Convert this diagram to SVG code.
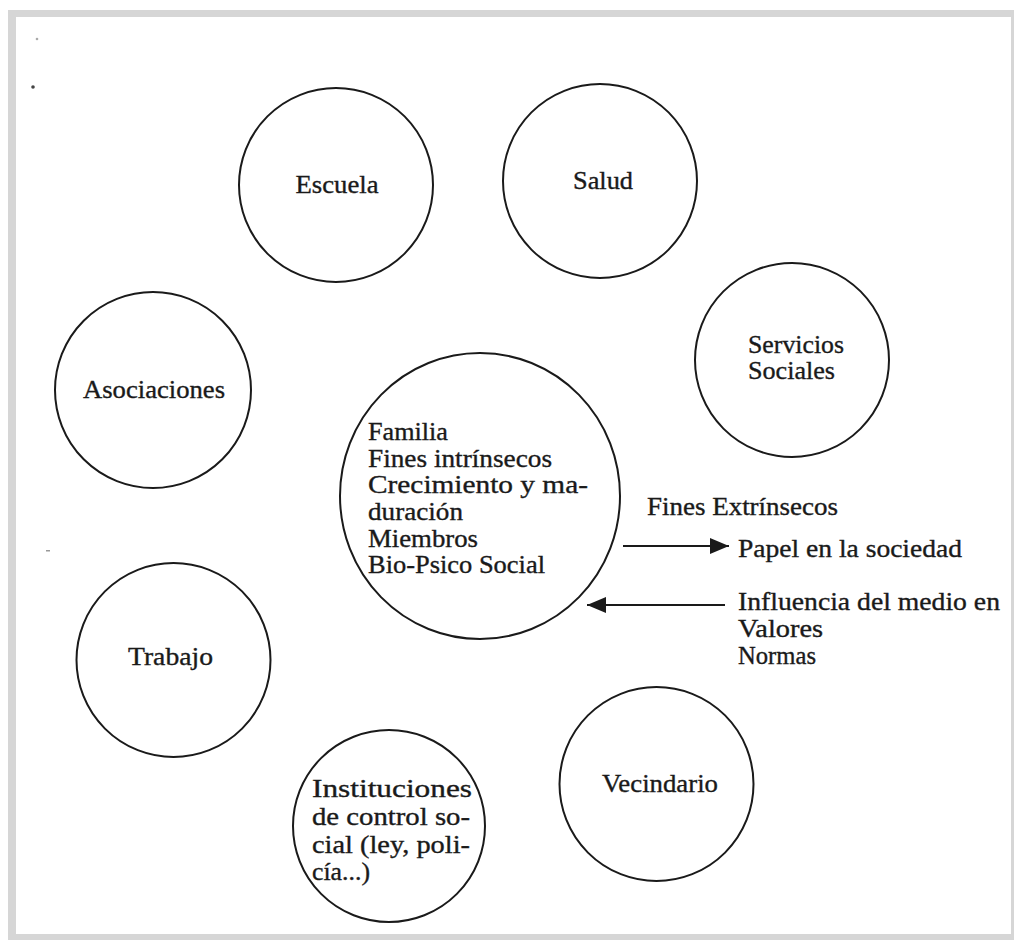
<svg xmlns="http://www.w3.org/2000/svg" width="1014" height="940" viewBox="0 0 1014 940">
<style>
.node{fill:#fff;stroke:#1a1a1a;stroke-width:2}
.t{font-family:"Liberation Serif","Times New Roman",serif;font-size:25px;fill:#1a1a1a;stroke:#1a1a1a;stroke-width:0.35}
.conn{stroke:#1a1a1a;stroke-width:2;fill:none}
</style>
<defs>
<marker id="ah" markerUnits="userSpaceOnUse" markerWidth="19" markerHeight="16" refX="19" refY="8" orient="auto">
<path d="M0,0 L19,8 L0,16 z" fill="#1a1a1a"/>
</marker>
</defs>
<rect x="8" y="10" width="1006" height="930" fill="#d6d6d6"/>
<rect x="16" y="17" width="995" height="917" fill="#fff"/>
<circle cx="37" cy="39" r="1.3" fill="#aaa"/>
<circle cx="33" cy="87" r="1.8" fill="#444"/>
<rect x="46" y="550" width="4" height="1.5" fill="#999"/>

<g id="escuela">
<circle class="node" cx="336" cy="185" r="97"/>
<text class="t" x="295.5" y="193" textLength="83" lengthAdjust="spacingAndGlyphs">Escuela</text>
</g>
<g id="salud">
<circle class="node" cx="600" cy="181" r="97"/>
<text class="t" x="573" y="189" textLength="60" lengthAdjust="spacingAndGlyphs">Salud</text>
</g>
<g id="servicios">
<circle class="node" cx="792" cy="360" r="97"/>
<text class="t" x="748" y="353" textLength="96" lengthAdjust="spacingAndGlyphs">Servicios</text>
<text class="t" x="748" y="379" textLength="87" lengthAdjust="spacingAndGlyphs">Sociales</text>
</g>
<g id="asociaciones">
<circle class="node" cx="153" cy="390" r="98"/>
<text class="t" x="83" y="398" textLength="142" lengthAdjust="spacingAndGlyphs">Asociaciones</text>
</g>
<g id="familia">
<ellipse class="node" cx="480" cy="496" rx="140" ry="143"/>
<text class="t" x="368" y="440" textLength="80" lengthAdjust="spacingAndGlyphs">Familia</text>
<text class="t" x="368" y="467" textLength="184" lengthAdjust="spacingAndGlyphs">Fines intrínsecos</text>
<text class="t" x="368" y="493" textLength="220" lengthAdjust="spacingAndGlyphs">Crecimiento y ma-</text>
<text class="t" x="368" y="520" textLength="95" lengthAdjust="spacingAndGlyphs">duración</text>
<text class="t" x="368" y="547" textLength="110" lengthAdjust="spacingAndGlyphs">Miembros</text>
<text class="t" x="368" y="573" textLength="177" lengthAdjust="spacingAndGlyphs">Bio-Psico Social</text>
</g>
<g id="trabajo">
<circle class="node" cx="173.5" cy="660" r="97"/>
<text class="t" x="128" y="665" textLength="85" lengthAdjust="spacingAndGlyphs">Trabajo</text>
</g>
<g id="instituciones">
<circle class="node" cx="389" cy="826" r="96"/>
<text class="t" x="312" y="797" textLength="160" lengthAdjust="spacingAndGlyphs">Instituciones</text>
<text class="t" x="312" y="825" textLength="158" lengthAdjust="spacingAndGlyphs">de control so-</text>
<text class="t" x="312" y="853" textLength="158" lengthAdjust="spacingAndGlyphs">cial (ley, poli-</text>
<text class="t" x="312" y="880" textLength="58" lengthAdjust="spacingAndGlyphs">cía...)</text>
</g>
<g id="vecindario">
<circle class="node" cx="656.5" cy="784" r="97"/>
<text class="t" x="602" y="792" textLength="116" lengthAdjust="spacingAndGlyphs">Vecindario</text>
</g>
<g id="extrinsecos">
<text class="t" x="647" y="515" textLength="191" lengthAdjust="spacingAndGlyphs">Fines Extrínsecos</text>
<text class="t" x="738" y="557" textLength="224" lengthAdjust="spacingAndGlyphs">Papel en la sociedad</text>
<text class="t" x="738" y="610" textLength="262" lengthAdjust="spacingAndGlyphs">Influencia del medio en</text>
<text class="t" x="738" y="637" textLength="85" lengthAdjust="spacingAndGlyphs">Valores</text>
<text class="t" x="738" y="664" textLength="78" lengthAdjust="spacingAndGlyphs">Normas</text>
</g>
<g id="connectors">
<line class="conn" x1="623" y1="546" x2="729" y2="546" marker-end="url(#ah)"/>
<line class="conn" x1="725" y1="605" x2="587" y2="605" marker-end="url(#ah)"/>
</g>
</svg>
